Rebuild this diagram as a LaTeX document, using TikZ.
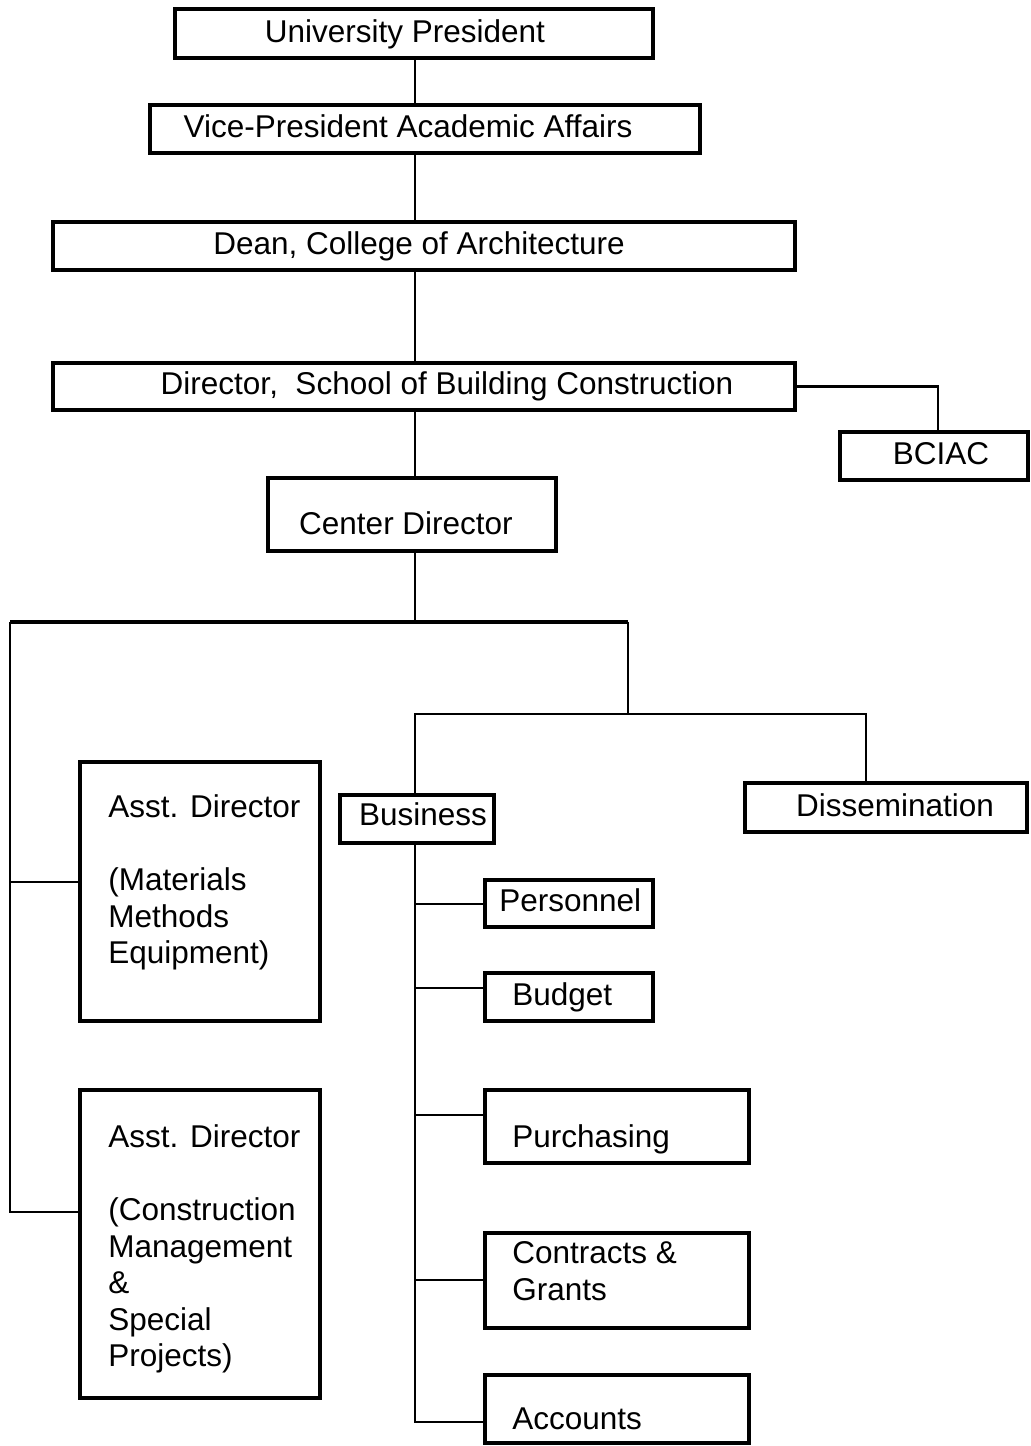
\documentclass[tikz,border=0pt]{standalone}
\usepackage{fontspec}
\setmainfont{Liberation Sans}
\begin{document}
\begin{tikzpicture}[x=0.5pt,y=-0.5pt,
  orgbox/.style={draw, line width=2.2pt, inner sep=0pt},
  unitbox/.style={draw, line width=1.7pt, inner sep=0pt},
  link/.style={line width=1.45pt},
  mainbar/.style={line width=2.1pt},
  txt/.style={inner sep=0pt, font=\fontsize{15.75pt}{18.25pt}\selectfont}]
\fill[white] (0,0) rectangle (1030,1446);
\useasboundingbox (0,0) rectangle (1030,1446);

% administrative chain
\node[orgbox, minimum width=239pt, minimum height=24.5pt] (pres) at (414,33.5) {};
\node[orgbox, minimum width=275pt, minimum height=24pt] (vp) at (425,129) {};
\node[orgbox, minimum width=371pt, minimum height=24pt] (dean) at (424,246) {};
\node[orgbox, minimum width=371pt, minimum height=23.5pt] (dir) at (424,386.5) {};
\node[orgbox, minimum width=94pt, minimum height=24pt] (bciac) at (934,456) {};
\node[orgbox, minimum width=144pt, minimum height=36.5pt] (cdir) at (412,514.5) {};

% center divisions
\node[orgbox, minimum width=120pt, minimum height=129.5pt] (ad1) at (200,891.5) {};
\node[orgbox, minimum width=120pt, minimum height=154pt] (ad2) at (200,1244) {};
\node[orgbox, minimum width=77pt, minimum height=24pt] (bus) at (417,819) {};
\node[orgbox, minimum width=141pt, minimum height=24.5pt] (diss) at (886,807.5) {};

% business units
\node[unitbox, minimum width=84pt, minimum height=23.5pt] (pers) at (569,903.5) {};
\node[unitbox, minimum width=84pt, minimum height=24pt] (budg) at (569,997) {};
\node[unitbox, minimum width=132pt, minimum height=36.5pt] (purch) at (617,1126.5) {};
\node[unitbox, minimum width=132pt, minimum height=47.5pt] (contr) at (617,1280.5) {};
\node[unitbox, minimum width=132pt, minimum height=34pt] (acct) at (617,1409) {};

% labels
\node[txt, anchor=base] (pres-t) at (405,42) {University President};
\node[txt, anchor=base] (vp-t) at (408,137) {Vice-President Academic Affairs};
\node[txt, anchor=base] (dean-t) at (419,254) {Dean, College of Architecture};
\node[txt, anchor=base] (dir-t) at (447,394) {Director,\ \ School of Building Construction};
\node[txt, anchor=base] (bciac-t) at (941,464) {BCIAC};
\node[txt, anchor=base] (cdir-t) at (406,534) {Center Director};
\node[txt, anchor=base] (bus-t) at (423,825) {Business};
\node[txt, anchor=base] (diss-t) at (895,816) {Dissemination};
\node[txt, anchor=base west] (pers-t) at (499,911) {Personnel};
\node[txt, anchor=base west] (budg-t) at (512,1005) {Budget};
\node[txt, anchor=base west] (purch-t) at (512,1147) {Purchasing};
\node[txt, anchor=north west, align=left] (contr-t) at (512,1241.4) {Contracts \&\\Grants};
\node[txt, anchor=base west] (acct-t) at (512,1429) {Accounts};
\node[txt, anchor=north west, align=left] (ad1-t) at (108,794.4)
  {Asst. Director\\[18.25pt](Materials\\Methods\\Equipment)};
\node[txt, anchor=north west, align=left] (ad2-t) at (108,1124.4)
  {Asst. Director\\[18.25pt](Construction\\Management\\\&\\Special\\Projects)};

% connector reference points
\coordinate (spine) at (415,0);
\coordinate (bcx) at (938,0);
\coordinate (split) at (415,622);
\coordinate (hL) at (10,622);
\coordinate (hR) at (628,622);
\coordinate (hR2) at (628,714);
\coordinate (dissx) at (866,0);
\coordinate (ad1y) at (0,882);
\coordinate (ad2y) at (0,1212);
\coordinate (persy) at (0,904);
\coordinate (budgy) at (0,988);
\coordinate (purchy) at (0,1115);
\coordinate (contry) at (0,1280);
\coordinate (accty) at (0,1422);

% chain of command
\draw[link] (pres.south -| spine) -- (vp.north -| spine);
\draw[link] (vp.south -| spine) -- (dean.north -| spine);
\draw[link] (dean.south -| spine) -- (dir.north -| spine);
\draw[link] (dir.south -| spine) -- (cdir.north -| spine);
\draw[link] (dir.east) -| (bciac.north -| bcx);
\draw[link] (cdir.south -| spine) -- (split);
\draw[mainbar] (hL) -- (hR);

% assistant directors
\draw[link] (hL) -- (hL |- ad2y) -- (ad2.west |- ad2y);
\draw[link] (hL |- ad1y) -- (ad1.west |- ad1y);

% business and dissemination
\draw[link] (hR) -- (hR2);
\draw[link] (bus.north -| spine) -- (spine |- hR2) -- (hR2 -| dissx) -- (diss.north -| dissx);

% business units
\draw[link] (bus.south -| spine) -- (spine |- accty) -- (acct.west |- accty);
\draw[link] (spine |- persy) -- (pers.west |- persy);
\draw[link] (spine |- budgy) -- (budg.west |- budgy);
\draw[link] (spine |- purchy) -- (purch.west |- purchy);
\draw[link] (spine |- contry) -- (contr.west |- contry);
\end{tikzpicture}
\end{document}
